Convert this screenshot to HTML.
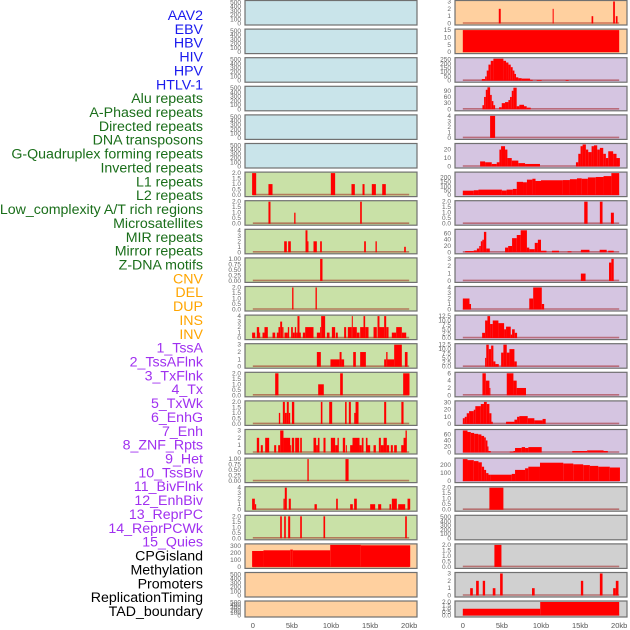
<!DOCTYPE html>
<html><head><meta charset="utf-8"><style>
html,body{margin:0;padding:0;background:#fff;}
svg{display:block;font-family:"Liberation Sans",sans-serif;}
</style></head><body>
<svg id="chart" width="630" height="630" viewBox="0 0 630 630" xmlns="http://www.w3.org/2000/svg"></svg>
<script>
// ---- labels ----
const trackLabels = ["AAV2","EBV","HBV","HIV","HPV","HTLV-1","Alu repeats","A-Phased repeats","Directed repeats","DNA transposons","G-Quadruplex forming repeats","Inverted repeats","L1 repeats","L2 repeats","Low_complexity A/T rich regions","Microsatellites","MIR repeats","Mirror repeats","Z-DNA motifs","CNV","DEL","DUP","INS","INV","1_TssA","2_TssAFlnk","3_TxFlnk","4_Tx","5_TxWk","6_EnhG","7_Enh","8_ZNF_Rpts","9_Het","10_TssBiv","11_BivFlnk","12_EnhBiv","13_ReprPC","14_ReprPCWk","15_Quies","CPGisland","Methylation","Promoters","ReplicationTiming","TAD_boundary"];
const labelGroups = [6,13,5,15,5];
const groupColors = ["#1a1aee","#1a6e1a","#ffa500","#a030f0","#000000"];
const xTickValues = [0,5,10,15,20];
const xTickLabels = ["0","5kb","10kb","15kb","20kb"];

// ---- panel backgrounds ----
const leftColors = ["b","b","b","b","b","b","g","g","g","g","g","g","g","g","g","g","g","g","g","p","p","p"];
const rightColors = ["p","p","v","v","v","v","v","v","v","v","v","v","v","v","v","v","v","r","r","r","r","r"];
const bgMap = {b:"#c9e4ea",g:"#c9e1a7",p:"#ffd09f",v:"#d5c5e1",r:"#d0d0d0"};

// ---- y tick specs [max tick, step, decimals] and y-limits ----
const leftTicks = [[500,100,0],[500,100,0],[500,100,0],[500,100,0],[500,100,0],[500,100,0],[2,0.5,1],[2,0.5,1],[4,1,0],[1,0.25,2],[2,0.5,1],[4,1,0],[3,1,0],[2,0.5,1],[2,0.5,1],[3,1,0],[1,0.25,2],[4,1,0],[2,0.5,1],[300,100,0],[500,100,0],[500,100,0]];
const rightTicks = [[3,1,0],[15,5,0],[250,50,0],[90,30,0],[4,1,0],[20,10,0],[200,50,0],[2,0.5,1],[60,20,0],[3,1,0],[4,1,0],[12.5,2.5,1],[12.5,2.5,1],[6,2,0],[30,10,0],[60,20,0],[200,100,0],[2,0.5,1],[500,100,0],[2,0.5,1],[3,1,0],[2,0.5,1]];
const leftYmax = [520,520,520,520,520,520,2,2,4,1,2,4,3,2,2,3,1,4,2,318,520,520];
const rightYmax = [3,15,260,107,4,26,249,2,70,3,4,12.5,12.5,6,31,73,275,2,520,2,3,2];

// ---- bar data: [start kb, end kb, value] ----
const L07 = [[-0.09,0.43,2],[2.0,2.52,1],[9.98,10.53,2],[12.62,13.05,1],[14.03,14.29,1],[15.22,15.74,1],[16.55,17.01,1]];
const L08 = [[2.0,2.26,2],[5.29,5.46,1],[13.73,13.94,2]];
const L09 = [[4.01,4.35,2],[4.52,4.86,2],[6.74,6.99,4],[6.99,7.08,2],[7.76,8.19,2],[8.61,8.83,2],[14.24,14.46,2],[15.69,15.86,2],[19.36,19.57,1]];
const L10 = [[8.61,8.91,1]];
const L11 = [[5.03,5.2,2],[8.02,8.19,2]];
const L12 = [[-0.09,0.3,1],[0.51,0.81,2],[0.81,0.94,1],[1.24,1.49,1],[1.49,1.92,2],[2.52,2.86,1],[3.07,3.28,1],[3.28,3.5,2],[3.5,3.75,3],[3.75,3.92,2],[4.05,4.48,1],[4.48,4.65,2],[4.9,5.12,2],[5.12,5.37,1],[5.37,5.54,2],[5.54,5.71,1],[5.71,5.97,4],[5.97,6.14,1],[6.4,6.7,1],[6.7,7.76,2],[8.19,8.61,1],[8.61,8.74,2],[8.74,9.25,4],[9.47,9.81,1],[10.11,10.53,2],[10.62,10.87,1],[11.68,11.94,2],[12.15,12.66,2],[12.66,12.79,4],[12.79,13.3,2],[13.3,13.65,1],[13.73,14.16,2],[14.16,14.37,4],[14.37,14.8,2],[15.44,15.86,2],[15.95,16.2,4],[16.2,16.8,2],[16.8,17.06,4],[17.06,17.36,2],[17.78,18.34,1],[18.34,19.06,2],[19.06,19.62,1]];
const L13 = [[8.19,8.7,2],[9.93,11.1,1],[11.1,11.35,2],[11.35,11.68,1],[12.84,13.18,2],[13.73,14.46,2],[16.8,17.06,1],[17.06,17.23,2],[17.23,18.08,1],[18.08,19.06,3],[19.45,19.79,2]];
const L14 = [[2.86,3.28,2],[8.36,9.08,1],[11.17,11.51,2],[19.23,20.04,2]];
const L15 = [[3.33,3.5,1],[3.84,4.1,2],[4.1,4.35,1],[4.35,4.6,2],[4.6,4.78,1],[5.0,5.3,2],[8.7,8.9,2],[9.77,10.15,2],[11.8,12.0,2],[12.28,12.54,2],[12.97,13.14,1],[13.14,13.52,2],[16.8,17.06,2],[19.0,19.28,2]];
const L16 = [[0.51,0.81,2],[1.02,1.28,1],[1.58,2.09,2],[2.73,2.99,1],[3.24,3.5,1],[3.5,3.92,3],[3.92,4.78,2],[4.78,4.9,1],[4.99,5.29,2],[5.42,5.93,2],[6.06,6.27,2],[7.76,8.1,2],[8.1,8.32,1],[8.32,8.53,2],[9.04,9.3,2],[9.98,10.53,2],[10.53,10.83,1],[10.83,11.0,2],[11.51,11.81,2],[11.9,12.03,1],[12.45,12.75,1],[12.75,13.65,2],[13.65,13.94,1],[13.94,14.16,2],[14.46,14.67,2],[14.67,15.01,1],[15.44,15.74,1],[16.12,16.38,2],[16.38,16.72,1],[16.72,17.14,2],[17.14,17.44,1],[17.65,17.91,1],[18.08,18.42,1],[18.98,19.28,1],[19.28,19.53,2],[19.53,19.7,3]];
const L17 = [[6.98,7.15,1],[11.85,12.25,1]];
const L18 = [[-0.09,0.26,2],[0.26,0.43,1],[3.92,4.09,2],[4.09,4.35,4],[4.6,4.86,2],[7.89,8.19,1],[10.66,10.87,2],[12.45,12.79,1],[12.96,13.3,2],[15.01,15.65,1],[16.03,16.42,1],[17.48,17.7,1],[17.78,18.42,2],[18.59,19.49,1],[19.79,20.13,2]];
const L19 = [[3.5,3.71,2],[4.01,4.22,2],[4.52,4.78,2],[6.06,6.27,2],[9.04,9.25,2],[19.49,19.7,2]];
const L20 = [[-0.09,1.36,230],[1.36,4.78,240],[4.78,5.12,250],[5.12,9.9,240],[9.9,13.82,318],[13.82,20.13,312]];

const R01 = [[4.6,4.85,2],[11.49,11.62,2],[16.47,16.68,1],[19.23,19.45,3],[19.57,19.79,1]];
const R02 = [[0,20,15]];
const R03 = [[2.43,2.85,20],[2.85,3.06,50],[3.06,3.28,120],[3.28,3.57,190],[3.57,3.91,235],[3.91,5.19,260],[5.19,5.53,235],[5.53,5.83,215],[5.83,6.13,190],[6.13,6.38,160],[6.38,6.6,120],[6.6,6.8,80],[6.8,7.1,40],[7.1,7.53,30],[7.53,8.6,25],[8.6,8.94,10],[9.45,10.09,8],[13.15,13.53,8]];
const R04 = [[2.51,2.72,20],[2.72,2.94,60],[2.94,3.15,95],[3.15,3.49,107],[3.49,3.7,70],[3.7,3.91,40],[3.91,4.13,20],[4.64,4.98,10],[4.98,5.4,30],[5.4,5.83,35],[5.83,6.04,45],[6.04,6.26,60],[6.26,6.47,90],[6.47,6.89,105],[6.89,7.23,15],[7.23,7.83,22],[7.83,8.17,15],[8.17,8.68,8]];
const R05 = [[3.49,4.13,4]];
const R06 = [[2.21,2.85,6],[2.85,3.7,5],[3.7,4.34,3],[4.34,4.68,5],[4.68,4.89,20],[4.89,5.4,24],[5.4,5.7,20],[5.7,6.26,10],[6.26,7.1,7],[7.1,7.96,4],[7.96,9.87,3],[14.47,14.77,5],[14.77,15.06,15],[15.06,15.32,24],[15.32,15.74,26],[15.74,16.04,20],[16.04,16.47,17],[16.47,16.77,24],[16.77,17.19,25],[17.19,17.53,20],[17.53,17.96,22],[17.96,18.3,15],[18.3,18.6,10],[18.6,19.23,18],[19.23,19.66,15],[19.66,20.09,10]];
const R07 = [[0,1.4,50],[1.4,2,55],[2,5,62],[5,5.6,52],[5.6,6.4,62],[6.4,6.9,70],[6.9,7.7,150],[7.7,8.2,145],[8.2,8.9,175],[8.9,9.3,185],[9.3,10,160],[10,12.8,168],[12.8,13.7,170],[13.7,14.6,180],[14.6,15.2,190],[15.2,16,185],[16,17,200],[17,18,205],[18,19,215],[19,20,249]];
const R08 = [[15.53,15.96,2],[17.53,17.87,2],[18.94,19.32,1]];
const R09 = [[0.3,1.4,4],[1.4,1.8,6],[1.8,2.1,12],[2.1,2.3,20],[2.3,2.5,35],[2.5,2.7,40],[2.7,3.0,65],[3.0,3.45,12],[5.4,5.8,15],[5.8,6.3,20],[6.3,6.9,45],[6.9,7.4,55],[7.4,8.2,70],[8.2,8.5,15],[8.5,9.2,10],[9.2,9.6,30],[9.6,10,40],[10,10.7,5],[11.4,12.3,5],[13.4,13.9,3],[15.1,16.2,8],[17.5,18.4,8],[18.6,19.3,5]];
const R10 = [[15.1,15.7,1],[18.7,19.0,2.5],[19.0,19.3,3]];
const R11 = [[0,0.85,2],[0.85,1.05,1],[8.5,9.0,2],[9.0,10.1,4],[10.1,10.4,1]];
const R12 = [[2.47,2.85,3],[2.85,3.15,10],[3.15,3.49,12.5],[3.49,3.83,8],[3.83,4.55,10],[4.55,5.28,8.5],[5.28,5.53,5],[5.53,6.13,6.5],[6.13,6.3,2],[6.3,6.64,5],[6.64,6.94,3]];
const R13 = [[2.85,3.0,5],[3.0,3.32,12.5],[3.32,3.62,10],[3.62,3.91,12],[3.91,4.17,3],[4.17,4.6,1.5],[4.9,5.19,8],[5.19,5.62,12.5],[5.62,5.96,8],[5.96,6.6,10],[6.6,6.9,3]];
const R14 = [[2.51,2.94,6],[2.94,3.4,4],[3.4,3.5,2],[5.62,6.47,6],[6.47,6.89,4],[6.89,8.08,2]];
const R15 = [[0,0.25,8],[0.25,0.5,10],[0.5,0.8,15],[0.8,1.4,18],[1.4,1.6,20],[1.6,2.3,25],[2.3,2.7,28],[2.7,3.06,31],[3.06,3.4,28],[3.4,3.66,15],[3.66,3.83,3],[5.53,6.6,3],[6.6,6.94,6],[6.94,7.23,10],[7.23,8.3,11],[8.3,9.15,8],[9.15,10.2,5],[10.2,10.6,7]];
const R16 = [[0,0.6,73],[0.6,1.02,68],[1.02,1.45,65],[1.45,1.96,62],[1.96,2.38,60],[2.38,2.72,55],[2.72,2.94,50],[2.94,3.15,40],[3.15,3.28,20],[3.28,3.57,5],[6.0,6.47,3],[6.47,6.68,5],[6.68,7.53,15],[7.53,7.96,18],[7.96,8.38,15],[8.38,10.09,18],[14.0,15.9,5],[15.9,18.0,7],[18.0,18.55,5]];
const R17 = [[0,0.6,275],[0.6,1.4,262],[1.4,2.0,250],[2.0,2.43,235],[2.43,2.72,180],[2.72,2.98,140],[2.98,3.28,100],[3.28,3.49,80],[3.49,6.26,80],[6.26,6.68,90],[6.68,7.96,140],[7.96,8.38,160],[8.38,9.87,180],[9.87,12.85,230],[12.85,14.13,220],[14.13,15.4,210],[15.4,16.25,200],[16.25,17.32,190],[17.32,18.8,180],[18.8,20.1,170]];
const R18 = [[3.4,5.19,2]];
const R20 = [[4.04,4.94,2]];
const R21 = [[0.94,1.28,1],[1.7,2.04,2],[2.55,2.85,2],[3.83,4.17,1],[4.77,5.1,3],[8.85,9.19,1],[15.1,15.4,2],[17.53,17.87,3],[19.23,19.57,1],[19.57,19.91,2]];
const R22 = [[0,9.9,1],[9.9,20,2]];

const leftBars = [null,null,null,null,null,null,L07,L08,L09,L10,L11,L12,L13,L14,L15,L16,L17,L18,L19,L20,null,null];
const rightBars = [R01,R02,R03,R04,R05,R06,R07,R08,R09,R10,R11,R12,R13,R14,R15,R16,R17,R18,null,R20,R21,R22];

const NS = "http://www.w3.org/2000/svg";
const svg = document.getElementById("chart");
function mk(tag, attrs, parent){
  const e = document.createElementNS(NS, tag);
  for (const k in attrs) e.setAttribute(k, attrs[k]);
  (parent||svg).appendChild(e);
  return e;
}
// labels
let li = 0;
const lg = mk("g", {});


labelGroups.forEach((n, gi) => {
  for (let k = 0; k < n; k++) {
    const t = mk("text", {x: 203, y: (20 + li*13.86).toFixed(2), "text-anchor": "end", "font-size": "14.2", fill: groupColors[gi]}, lg);
    t.textContent = trackLabels[li];
    
    
    li++;
  }
});

const PW = 172;
function xScale(x0, kb){ return x0 + (kb + 1) / 22 * PW; }
function rowTop(i){ return i < 21 ? 0.5 + i*28.6 : 601; }
function rowH(i){ return i < 21 ? 24.5 : 16; }

function drawPanel(x0, i, color, ticks, ymax, bars, side){
  const top = rowTop(i), h = rowH(i);
  const g = mk("g", {});
  
  
  const bg = mk("rect", {x: x0, y: top, width: PW, height: h, fill: bgMap[color], stroke: "#707070", "stroke-width": 1.2}, g);
  
  
  const yS = v => top + 1 + (1 - v/ymax) * (h - 2.5);
  const [tmax, step, dec] = ticks;
  const nT = Math.round(tmax/step);
  for (let k = 0; k <= nT; k++) {
    const v = k*step;
    const t = mk("text", {x: x0 - 4, y: (yS(v) + 2).toFixed(2), "text-anchor": "end", "font-size": "6.5", fill: "#666"}, g);
    t.textContent = v.toFixed(dec);
    
    
  }
  if (bars) {
    const base = mk("line", {x1: xScale(x0,0), x2: xScale(x0,20), y1: yS(0)-0.5, y2: yS(0)-0.5, stroke: "rgba(150,0,0,0.45)", "stroke-width": 1.6}, g);
    
    
    bars.forEach(b => {
      const xa = xScale(x0, b[0]), xb = xScale(x0, b[1]);
      const ya = Math.max(top + 0.6, yS(b[2]));
      const r = mk("rect", {x: xa.toFixed(2), y: ya.toFixed(2), width: Math.max(1, xb - xa).toFixed(2), height: Math.max(0, yS(0) - ya).toFixed(2), fill: "#ff0000"}, g);
      
      
    });
  }
}
for (let i = 0; i < 22; i++) {
  drawPanel(245, i, leftColors[i], leftTicks[i], leftYmax[i], leftBars[i], 'left');
  drawPanel(455, i, rightColors[i], rightTicks[i], rightYmax[i], rightBars[i], 'right');
}
[245, 455].forEach((x0, ci) => {
  const g = mk("g", {});
  
  
  xTickValues.forEach((v, k) => {
    const t = mk("text", {x: xScale(x0, v).toFixed(2), y: 628, "text-anchor": "middle", "font-size": "7.5", fill: "#555"}, g);
    t.textContent = xTickLabels[k];
    
    
  });
});
</script>
</body></html>
